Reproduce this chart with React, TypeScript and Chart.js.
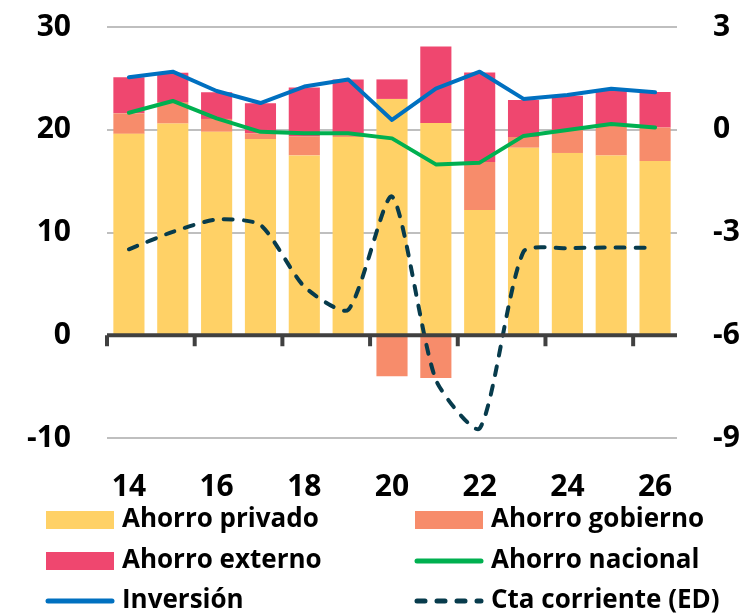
import React, { useEffect, useRef } from 'react';
import { Chart, registerables } from 'chart.js';

Chart.register(...registerables);

const years = ['14', '15', '16', '17', '18', '19', '20', '21', '22', '23', '24', '25', '26'];
const ahorroPrivado = [19.6, 20.6, 19.8, 19.1, 17.5, 19.3, 23.0, 20.65, 12.2, 18.26, 17.74, 17.5, 16.96];
const ahorroGobierno = [2.0, 2.1, 1.25, 0.55, 1.85, 0.33, -4.0, -4.16, 4.66, 1.04, 2.23, 3.06, 3.27];
const ahorroExterno = [3.5, 2.85, 2.6, 2.92, 4.75, 5.27, 1.9, 7.45, 8.7, 3.6, 3.33, 3.37, 3.44];
const ahorroNacional = [21.66, 22.8, 21.1, 19.8, 19.65, 19.65, 19.16, 16.63, 16.8, 19.4, 19.97, 20.56, 20.23];
const inversion = [25.1, 25.65, 23.77, 22.6, 24.2, 24.9, 20.95, 24.0, 25.65, 23.0, 23.38, 24.0, 23.64];
const ctaCorriente = [-3.49, -2.98, -2.62, -2.78, -4.58, -5.26, -1.95, -7.3, -8.72, -3.56, -3.46, -3.44, -3.45];

const leftTicks = { min: -10, max: 30, step: 10 };
const rightTicks = { min: -9, max: 3, step: 3 };

const FONT = '"Open Sans"';

const zeroAxisPlugin = {
  id: 'zeroAxis',
  afterDatasetsDraw(chart: any) {
    const { ctx, chartArea, scales } = chart;
    const y0 = scales.y.getPixelForValue(0);
    const xs = scales.x;
    const step = xs.getPixelForValue(1) - xs.getPixelForValue(0);
    ctx.save();
    ctx.strokeStyle = '#404040';
    ctx.lineWidth = 4;
    ctx.beginPath();
    ctx.moveTo(chartArea.left, y0);
    ctx.lineTo(chartArea.right, y0);
    ctx.stroke();
    for (let i = 0; i < years.length; i += 2) {
      const x = xs.getPixelForValue(i) - step / 2;
      ctx.beginPath();
      ctx.moveTo(x, y0);
      ctx.lineTo(x, y0 + 11);
      ctx.stroke();
    }
    ctx.restore();
  },
};

const legendPlugin = {
  id: 'twoColLegend',
  afterDraw(chart: any) {
    const { ctx } = chart;
    const ds = chart.data.datasets;
    const colX = [46, 415];
    const rowY = [520, 561, 601];
    ctx.save();
    ctx.font = `bold 26px ${FONT}`;
    ctx.textBaseline = 'middle';
    ds.forEach((d: any, k: number) => {
      const x = colX[k % 2];
      const y = rowY[Math.floor(k / 2)];
      if (d.type === 'bar') {
        ctx.fillStyle = d.backgroundColor;
        ctx.fillRect(x, y - 9, 68, 18);
      } else {
        ctx.strokeStyle = d.borderColor;
        ctx.lineWidth = 5;
        ctx.lineCap = 'round';
        ctx.setLineDash(d.borderDash && d.borderDash.length ? [8, 12] : []);
        ctx.beginPath();
        ctx.moveTo(x + 2, y);
        ctx.lineTo(x + 66, y);
        ctx.stroke();
        ctx.setLineDash([]);
      }
      ctx.fillStyle = '#000';
      ctx.fillText(d.label, x + 76, y);
    });
    ctx.restore();
  },
};

export default function App() {
  const ref = useRef<HTMLCanvasElement>(null);
  useEffect(() => {
    document.body.style.margin = '0';
    const canvas = ref.current;
    if (!canvas) return;
    const tickFont = { family: FONT, size: 30, weight: 'bold' };
    const fitVertical = (w: number) => (s: any) => {
      s.width = w;
      s.paddingTop = 27;
      s.paddingBottom = 0;
    };
    const chart = new Chart(canvas, {
      type: 'bar',
      data: {
        labels: years,
        datasets: [
          { type: 'bar', label: 'Ahorro privado', data: ahorroPrivado, backgroundColor: '#FFD166', stack: 'bars', order: 1, yAxisID: 'y' },
          { type: 'bar', label: 'Ahorro gobierno', data: ahorroGobierno, backgroundColor: '#F78C6B', stack: 'bars', order: 1, yAxisID: 'y' },
          { type: 'bar', label: 'Ahorro externo', data: ahorroExterno, backgroundColor: '#EF476F', stack: 'bars', order: 1, yAxisID: 'y' },
          { type: 'line', label: 'Ahorro nacional', data: ahorroNacional, borderColor: '#00B050', backgroundColor: '#00B050', borderWidth: 4, pointRadius: 0, tension: 0, stack: 'nac', order: 0, yAxisID: 'y', borderCapStyle: 'round', borderJoinStyle: 'round' },
          { type: 'line', label: 'Inversión', data: inversion, borderColor: '#0070C0', backgroundColor: '#0070C0', borderWidth: 4, pointRadius: 0, tension: 0, stack: 'inv', order: 0, yAxisID: 'y', borderCapStyle: 'round', borderJoinStyle: 'round' },
          { type: 'line', label: 'Cta corriente (ED)', data: ctaCorriente, borderColor: '#073B4C', backgroundColor: '#073B4C', borderWidth: 4, borderDash: [9, 11], borderCapStyle: 'round', pointRadius: 0, tension: 0.22, stack: 'cta', order: 0, yAxisID: 'y2' },
        ] as any,
      },
      options: {
        animation: false,
        responsive: false,
        layout: { padding: { top: 0, left: 0, right: 0, bottom: 0 } },
        datasets: { bar: { categoryPercentage: 0.71, barPercentage: 1 } },
        plugins: { legend: { display: false }, tooltip: { enabled: false } },
        scales: {
          x: {
            stacked: true,
            grid: { display: false, drawTicks: false },
            border: { display: false },
            ticks: {
              autoSkip: false,
              maxRotation: 0,
              padding: 31,
              color: '#000',
              font: tickFont,
              callback: (_v: any, i: number) => (i % 2 === 0 ? years[i] : ''),
            },
            afterFit: (s: any) => { s.height = 176; },
          },
          y: {
            stacked: true,
            position: 'left',
            min: leftTicks.min,
            max: leftTicks.max,
            grid: {
              drawTicks: false,
              lineWidth: 2,
              color: (c: any) => (c.tick && c.tick.value === 0 ? 'rgba(0,0,0,0)' : '#BFBFBF'),
            },
            border: { display: false },
            ticks: {
              stepSize: leftTicks.step,
              padding: 36,
              color: '#000',
              font: tickFont,
            },
            afterFit: fitVertical(107),
          },
          y2: {
            position: 'right',
            min: rightTicks.min,
            max: rightTicks.max,
            grid: { display: false, drawTicks: false },
            border: { display: false },
            ticks: {
              stepSize: rightTicks.step,
              padding: 36,
              color: '#000',
              font: tickFont,
            },
            afterFit: fitVertical(69),
          },
        },
      } as any,
      plugins: [zeroAxisPlugin, legendPlugin],
    });
    return () => chart.destroy();
  }, []);
  return (
    <div style={{ width: 746, height: 614 }}>
      <canvas ref={ref} width={746} height={614} style={{ display: 'block' }} />
    </div>
  );
}
